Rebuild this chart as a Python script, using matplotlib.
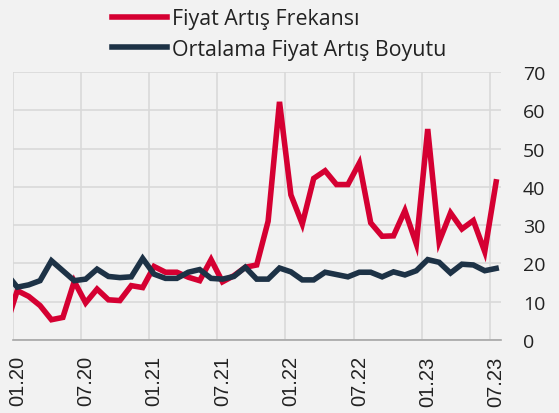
import numpy as np
import matplotlib
matplotlib.use("Agg")
import matplotlib.pyplot as plt
from matplotlib.ticker import FixedLocator

# monthly series, 12.19 .. 07.23 (the first point sits just outside the left edge)
months = ["12.19",
          "01.20", "02.20", "03.20", "04.20", "05.20", "06.20", "07.20", "08.20", "09.20", "10.20", "11.20", "12.20",
          "01.21", "02.21", "03.21", "04.21", "05.21", "06.21", "07.21", "08.21", "09.21", "10.21", "11.21", "12.21",
          "01.22", "02.22", "03.22", "04.22", "05.22", "06.22", "07.22", "08.22", "09.22", "10.22", "11.22", "12.22",
          "01.23", "02.23", "03.23", "04.23", "05.23", "06.23", "07.23"]

frekans = [3.5,
           12.9, 11.4, 9.0, 5.3, 5.9, 15.3, 9.7, 13.3, 10.5, 10.3, 14.2, 13.7,
           19.2, 17.7, 17.7, 16.4, 15.5, 21.0, 15.2, 16.8, 19.0, 19.6, 31.0, 62.2,
           37.9, 30.3, 42.2, 44.2, 40.6, 40.6, 46.2, 30.6, 27.1, 27.2, 33.8, 25.1,
           55.1, 25.7, 33.2, 29.0, 31.2, 23.1, 41.3]

boyut = [17.5,
         13.8, 14.4, 15.5, 20.7, 18.1, 15.5, 15.9, 18.5, 16.6, 16.3, 16.5, 21.3,
         17.2, 16.1, 16.1, 17.7, 18.4, 16.1, 15.9, 16.6, 19.0, 15.9, 15.9, 18.8,
         17.8, 15.7, 15.7, 17.7, 17.1, 16.5, 17.7, 17.7, 16.5, 17.8, 17.0, 18.1,
         21.0, 20.3, 17.5, 19.8, 19.6, 18.1, 18.7]

tick_labels = ["01.20", "07.20", "01.21", "07.21", "01.22", "07.22", "01.23", "07.23"]

RED = "#D50032"
NAVY = "#1D3246"
BG = "#F2F2F2"

fig = plt.figure(figsize=(5.59, 4.14), dpi=100, facecolor=BG)
ax = fig.add_axes([0.0227, 0.1763, 0.8730, 0.6474], facecolor=BG)

x = np.arange(len(months))
ax.plot(x, frekans, color=RED, lw=4, solid_joinstyle="miter", label="Fiyat Artış Frekansı", zorder=3)
ax.plot(x, boyut, color=NAVY, lw=4, solid_joinstyle="miter", label="Ortalama Fiyat Artış Boyutu", zorder=3)

ax.set_xlim(0.6, 43.4)
ax.set_ylim(0, 70)

# labels sit on the data points, gridlines sit between months
ax.set_xticks([months.index(m) for m in tick_labels])
ax.set_xticklabels(tick_labels, rotation=90, fontsize=14.5, family="Liberation Sans", color="#222222")
ax.xaxis.set_minor_locator(FixedLocator(0.6 + 5.98 * np.arange(8)))
ax.tick_params(axis="x", which="both", length=0, pad=11)
ax.grid(axis="x", which="minor", color="#D9D9D9", lw=1.2)

ax.yaxis.tick_right()
ax.set_yticks(range(0, 71, 10))
ax.tick_params(axis="y", length=0, pad=16, labelsize=14, labelcolor="#222222")
for lab in ax.get_yticklabels():
    lab.set_family("Open Sans")
ax.grid(axis="y", color="#D9D9D9", lw=1.2)

for s in ["left", "right", "top"]:
    ax.spines[s].set_visible(False)
ax.spines["bottom"].set_color("#A6A6A6")
ax.spines["bottom"].set_linewidth(1.2)
ax.set_axisbelow(True)

leg = ax.legend(loc="upper left", bbox_to_anchor=(0.2, 0.978), bbox_transform=fig.transFigure,
                frameon=False, prop={"family": "Open Sans", "size": 15.4},
                handlelength=2.57, handletextpad=0.23, labelspacing=0.45, borderaxespad=0, borderpad=0)
for h in leg.legend_handles:
    h.set_linewidth(4)
for t in leg.get_texts():
    t.set_color("#222222")

fig.savefig("out.png", dpi=100, facecolor=BG)
